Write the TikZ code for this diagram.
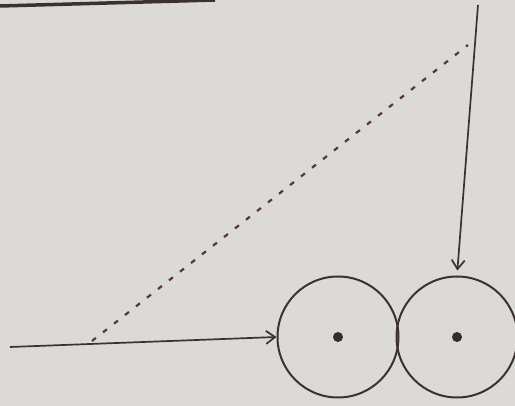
\documentclass[tikz,border=0pt]{standalone}
\usetikzlibrary{arrows.meta}
\definecolor{inkc}{HTML}{3B3133}
\definecolor{dashc}{HTML}{5A3535}
\definecolor{paper}{HTML}{DCDAD6}
\begin{document}
\begin{tikzpicture}[x=1pt,y=-1pt,
  ink/.style={draw=inkc, line width=1.7pt},
  arr/.style={ink, -{Straight Barb[length=9pt,width=13pt,line width=1.7pt]}},
  wheel/.style={circle, ink, line width=2pt, minimum size=121pt, inner sep=0pt},
  hub/.style={circle, fill=inkc!90!black, minimum size=10pt, inner sep=0pt},
  dsh/.style={draw=dashc, line width=2.2pt, dash pattern=on 5pt off 9pt}]
\fill[paper] (0,0) rectangle (515,406);
\useasboundingbox (0,0) rectangle (515,406);
\coordinate (tl) at (0,6);
\coordinate (tr) at (215,0);
\draw[ink, line width=3.5pt] (tl) -- (tr);
\node[wheel] (w1) at (338,337) {};
\node[wheel] (w2) at (457,337) {};
\node[hub] (h1) at (w1.center) {};
\node[hub] (h2) at (w2.center) {};
\coordinate (vs) at (478,5);
\coordinate (hs) at (10,347);
\coordinate (ds) at (92,341);
\coordinate (de) at (468,45);
\draw[arr, shorten >=5pt] (vs) -- (w2.north);
\draw[arr] (hs) -- (w1.west);
\draw[dsh] (ds) -- (de);
\end{tikzpicture}
\end{document}
